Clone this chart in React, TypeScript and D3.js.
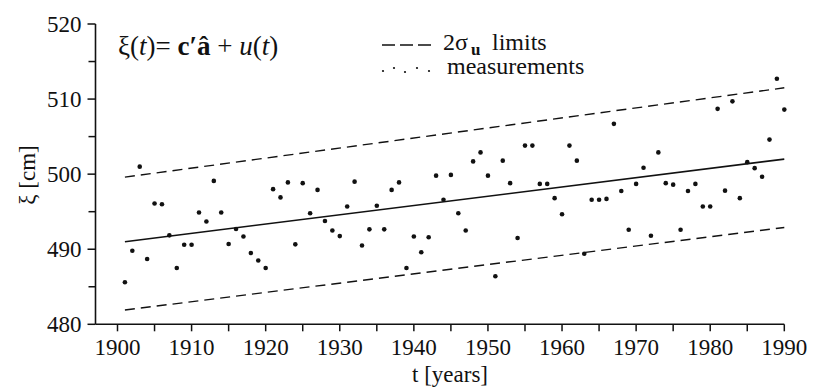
import React from "react";
import * as d3 from "d3";

const years: number[] = d3.range(1901, 1991);
const measurements: number[] = [
  485.6, 489.8, 501.0, 488.7, 496.1, 496.0, 491.85, 487.5, 490.6, 490.6,
  494.9, 493.7, 499.1, 494.9, 490.7, 492.7, 491.7, 489.5, 488.5, 487.5,
  498.0, 496.9, 498.9, 490.65, 498.8, 494.8, 497.9, 493.75, 492.5, 491.75,
  495.7, 499.0, 490.5, 492.65, 495.8, 492.65, 497.9, 498.9, 487.5, 491.7,
  489.6, 491.6, 499.8, 496.6, 499.9, 494.8, 492.5, 501.7, 502.9, 499.8,
  486.4, 501.8, 498.8, 491.5, 503.8, 503.8, 498.7, 498.7, 496.8, 494.65,
  503.8, 501.8, 489.4, 496.6, 496.6, 496.7, 506.7, 497.75, 492.6, 498.7,
  500.85, 491.8, 502.9, 498.8, 498.6, 492.6, 497.75, 498.7, 495.7, 495.7,
  508.7, 497.8, 509.7, 496.8, 501.6, 500.8, 499.65, 504.6, 512.7, 508.6,
];

const lineYears: number[] = [1901, 1990];
const trend: number[] = [491.0, 502.0];
const upperLimit: number[] = [499.6, 511.5];
const lowerLimit: number[] = [481.9, 492.9];

const xMajorTicks: number[] = [1900, 1910, 1920, 1930, 1940, 1950, 1960, 1970, 1980, 1990];
const xMinorTicks: number[] = [1905, 1915, 1925, 1935, 1945, 1955, 1965, 1975, 1985];
const yMajorTicks: number[] = [480, 490, 500, 510, 520];
const yMinorTicks: number[] = [485, 495, 505, 515];

const FONT = "Liberation Serif";

function T(props: any) {
  const { children, ...rest } = props;
  return (
    <text fontFamily={FONT} style={{ fontFamily: FONT }} fill="#111" {...rest}>
      {children}
    </text>
  );
}

export default function App() {
  const x = d3.scaleLinear().domain([1900, 1990]).range([117.5, 784.3]);
  const y = d3.scaleLinear().domain([480, 520]).range([324.3, 24]);
  const axisX0 = 95.5;
  const axisY0 = y(480);

  const mkLine = (vals: number[]) =>
    d3.line<number>().x((_, i) => x(lineYears[i])).y((v) => y(v))(vals) || "";

  return (
    <div style={{ position: "absolute", left: 0, top: 0, width: 816, height: 389, background: "#fff", fontFamily: FONT }}>
      <svg width={816} height={389} style={{ display: "block" }}>
        {/* axes */}
        <line x1={axisX0} x2={axisX0} y1={y(520)} y2={axisY0} stroke="#111" strokeWidth={1.6} />
        <line x1={axisX0} x2={x(1990)} y1={axisY0} y2={axisY0} stroke="#111" strokeWidth={1.6} />
        {yMajorTicks.map((t) => (
          <g key={"ym" + t}>
            <line x1={axisX0 - 8} x2={axisX0} y1={y(t)} y2={y(t)} stroke="#111" strokeWidth={1.5} />
            <T x={axisX0 - 14} y={y(t) + 8} textAnchor="end" fontSize={23}>
              {t}
            </T>
          </g>
        ))}
        {yMinorTicks.map((t) => (
          <line key={"yn" + t} x1={axisX0 - 7} x2={axisX0} y1={y(t)} y2={y(t)} stroke="#111" strokeWidth={1.5} />
        ))}
        {xMajorTicks.map((t) => (
          <g key={"xm" + t}>
            <line x1={x(t)} x2={x(t)} y1={axisY0} y2={axisY0 + 7} stroke="#111" strokeWidth={1.5} />
            <T x={x(t)} y={355} textAnchor="middle" fontSize={23}>
              {t}
            </T>
          </g>
        ))}
        {xMinorTicks.map((t) => (
          <line key={"xn" + t} x1={x(t)} x2={x(t)} y1={axisY0} y2={axisY0 + 7} stroke="#111" strokeWidth={1.5} />
        ))}
        {/* axis titles */}
        <T x={450} y={382} textAnchor="middle" fontSize={23}>
          t [years]
        </T>
        <T transform={`translate(35,175) rotate(-90)`} textAnchor="middle" fontSize={23}>
          ξ [cm]
        </T>

        {/* lines */}
        <path d={mkLine(trend)} fill="none" stroke="#111" strokeWidth={1.6} />
        <path d={mkLine(upperLimit)} fill="none" stroke="#111" strokeWidth={1.4} strokeDasharray="10,6" />
        <path d={mkLine(lowerLimit)} fill="none" stroke="#111" strokeWidth={1.4} strokeDasharray="10,6" />

        {/* measurements */}
        {measurements.map((v, i) => (
          <circle key={"p" + i} cx={x(years[i])} cy={y(v)} r={2.3} fill="#111" />
        ))}

        {/* equation */}
        <T x={118} y={55} fontSize={27}>
          <tspan>ξ(</tspan>
          <tspan fontStyle="italic">t</tspan>
          <tspan>)= </tspan>
          <tspan fontWeight="bold">c′â</tspan>
          <tspan> + </tspan>
          <tspan fontStyle="italic">u</tspan>
          <tspan>(</tspan>
          <tspan fontStyle="italic">t</tspan>
          <tspan>)</tspan>
        </T>

        {/* legend */}
        <line x1={382} x2={431} y1={45} y2={45} stroke="#111" strokeWidth={1.3} strokeDasharray="13,5" />
        <T x={443} y={50} fontSize={24}>
          2σ
        </T>
        <T x={471} y={55} fontSize={17} fontWeight="bold">
          u
        </T>
        <T x={492} y={50} fontSize={24}>
          limits
        </T>
        {[
          [383, 71],
          [394, 68],
          [405, 72],
          [417, 68],
          [429, 71],
        ].map(([cx, cy], i) => (
          <circle key={"ld" + i} cx={cx} cy={cy} r={1.1} fill="#111" />
        ))}
        <T x={447} y={74} fontSize={24}>
          measurements
        </T>
      </svg>
    </div>
  );
}
